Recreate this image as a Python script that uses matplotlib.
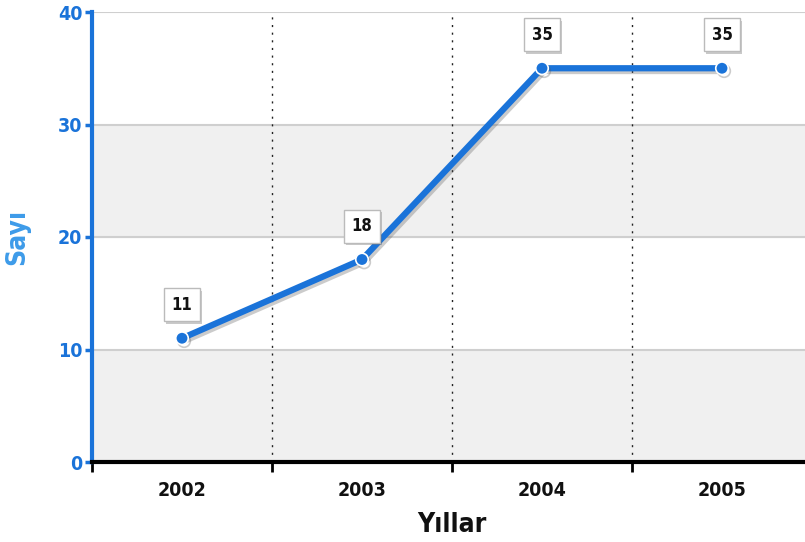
import matplotlib.pyplot as plt
import matplotlib.patheffects as pe

# data
years = ["2002", "2003", "2004", "2005"]
counts = [11, 18, 35, 35]
y_ticks = [0, 10, 20, 30, 40]

blue = "#1a73d9"
label_blue = "#3d9be9"
font = ["DejaVu Sans"]
txt = dict(family=font, fontweight="bold", fontstretch="condensed")

fig = plt.figure(figsize=(8.05, 5.42), dpi=100)
ax = fig.add_axes([92 / 805, 80 / 542, 720 / 805, 450 / 542])

x = list(range(len(years)))

# alternating horizontal bands
for i in range(0, len(y_ticks) - 1):
    if i % 2 == 0:
        ax.axhspan(y_ticks[i], y_ticks[i + 1], color="#f0f0f0", zorder=0)
for t in y_ticks[1:]:
    ax.axhline(t, color="#cfcfcf", lw=1.5, zorder=1)

# dotted category separators
for b in [0.5, 1.5, 2.5]:
    ax.axvline(b, color="#222222", lw=1, ls=(0, (1.5, 4)), zorder=1)

ax.plot(x, counts, color=blue, lw=4.5, marker="o", markersize=9,
        markerfacecolor=blue, markeredgecolor="white", markeredgewidth=1.2,
        solid_capstyle="round", zorder=3,
        path_effects=[pe.SimpleLineShadow(offset=(1.5, -2), shadow_color="#555555", alpha=0.3),
                      pe.Normal()])

for xi, v in zip(x, counts):
    ax.annotate(str(v), (xi, v), xytext=(0, 24), textcoords="offset points",
                ha="center", va="center", fontsize=12, color="#111111", zorder=4,
                bbox=dict(boxstyle="square,pad=0.45", fc="white", ec="#bbbbbb", lw=1,
                          path_effects=[pe.withSimplePatchShadow(offset=(1.5, -1.5), alpha=0.3)]),
                **txt)

ax.set_xlim(-0.5, 3.5)
ax.set_ylim(0, 40)
ax.set_yticks(y_ticks)
ax.set_yticklabels([str(t) for t in y_ticks], color=blue, fontsize=14, **txt)
ax.set_xticks(x)
ax.set_xticklabels(years, fontsize=14, color="#111111", **txt)
ax.set_xticks([-0.5, 0.5, 1.5, 2.5], minor=True)
ax.tick_params(axis="x", which="major", length=0, pad=14)
ax.tick_params(axis="x", which="minor", length=7, width=2, color="black", direction="out")
ax.tick_params(axis="y", length=5, width=2.5, color=blue, pad=2)

for s in ["top", "right"]:
    ax.spines[s].set_visible(False)
ax.spines["left"].set_color(blue)
ax.spines["left"].set_linewidth(3)
ax.spines["bottom"].set_color("black")
ax.spines["bottom"].set_linewidth(3)

ax.set_xlabel("Yıllar", fontsize=19, color="#111111", labelpad=8, **txt)
ax.set_ylabel("Sayı", fontsize=19, color=label_blue, labelpad=20, **txt)

fig.savefig("out.png", dpi=100)
